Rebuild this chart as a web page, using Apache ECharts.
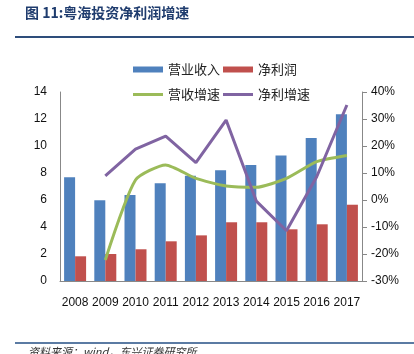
<!DOCTYPE html>
<html><head><meta charset="utf-8">
<script src="https://cdn.jsdelivr.net/npm/echarts@6/dist/echarts.min.js"></script>
<style>html,body{margin:0;padding:0;background:#fff}#c{width:414px;height:354px}</style>
</head><body><div id="c"></div>
<script>
const years = ['2008','2009','2010','2011','2012','2013','2014','2015','2016','2017'];
const revenue = [7.68, 5.98, 6.37, 7.24, 7.8, 8.2, 8.6, 9.3, 10.6, 12.35];
const netProfit = [1.83, 2.0, 2.35, 2.94, 3.38, 4.35, 4.35, 3.83, 4.2, 5.65];
const revenueGrowth = [null, -22.2, 7.4, 13.0, 8.0, 5.2, 4.7, 8.0, 14.2, 16.5];
const profitGrowth = [null, 8.9, 18.8, 23.7, 13.8, 29.6, -0.4, -11.4, 8.6, 35.2];
const leftTicks = {min: 0, max: 14, interval: 2};
const rightTicks = {min: -30, max: 40, interval: 10};

const chart = echarts.init(document.getElementById('c'), null, {renderer: 'canvas'});
const font = 'Liberation Sans, Arial, sans-serif';
chart.setOption({
  animation: false,
  textStyle: {fontFamily: font},
  grid: {left: 60, right: 52, top: 92, bottom: 73},
  legend: [
    {data: ['营业收入', '净利润'], left: 133, top: 63, padding: 0, itemWidth: 30, itemHeight: 6, itemGap: 3,
     icon: 'rect', textStyle: {fontSize: 13, color: '#222', fontFamily: 'Noto Sans CJK SC'}},
    {data: ['营收增速', '净利增速'], left: 133, top: 88, padding: 0, itemWidth: 30, itemHeight: 3, itemGap: 3,
     icon: 'rect', textStyle: {fontSize: 13, color: '#222', fontFamily: 'Noto Sans CJK SC'}}
  ],
  xAxis: {
    type: 'category', data: years,
    axisLine: {lineStyle: {color: '#888'}},
    axisTick: {show: false},
    axisLabel: {color: '#111', fontSize: 12, margin: 16, interval: 0}
  },
  yAxis: [
    {type: 'value', min: leftTicks.min, max: leftTicks.max, interval: leftTicks.interval,
     splitLine: {show: false},
     axisLine: {show: true, lineStyle: {color: '#888'}},
     axisTick: {show: false},
     axisLabel: {color: '#111', fontSize: 12, margin: 13}},
    {type: 'value', min: rightTicks.min, max: rightTicks.max, interval: rightTicks.interval,
     position: 'right', splitLine: {show: false},
     axisLine: {show: true, lineStyle: {color: '#888'}},
     axisTick: {show: true, length: 5, lineStyle: {color: '#888'}},
     axisLabel: {color: '#111', fontSize: 12, margin: 9, formatter: '{value}%'}}
  ],
  series: [
    {name: '营业收入', type: 'bar', data: revenue, barWidth: 11, barGap: '0%',
     itemStyle: {color: '#4f81bd'}},
    {name: '净利润', type: 'bar', data: netProfit, barWidth: 11, barGap: '0%',
     itemStyle: {color: '#c0504d'}},
    {name: '营收增速', type: 'line', yAxisIndex: 1, data: revenueGrowth, symbol: 'none',
     smooth: 0.2, lineStyle: {color: '#9bbb59', width: 3}, itemStyle: {color: '#9bbb59'}},
    {name: '净利增速', type: 'line', yAxisIndex: 1, data: profitGrowth, symbol: 'none',
     lineStyle: {color: '#8064a2', width: 3}, itemStyle: {color: '#8064a2'}}
  ],
  graphic: [
    {type: 'text', left: 25, top: 6, style: {text: '图 11:粤海投资净利润增速', fontSize: 14, fontWeight: 'bold',
      fill: '#1f3c6e', fontFamily: 'Noto Sans CJK SC'}},
    {type: 'rect', shape: {x: 15, y: 36, width: 399, height: 2}, style: {fill: '#2e4d7b'}},
    {type: 'rect', shape: {x: 15, y: 342, width: 399, height: 2}, style: {fill: '#5b7ba3'}},
    {type: 'text', left: 28, top: 346, style: {text: '资料来源：wind，东兴证券研究所', fontSize: 11, fontStyle: 'italic',
      fill: '#333', fontFamily: 'Noto Sans CJK SC'}}
  ]
});
</script></body></html>
